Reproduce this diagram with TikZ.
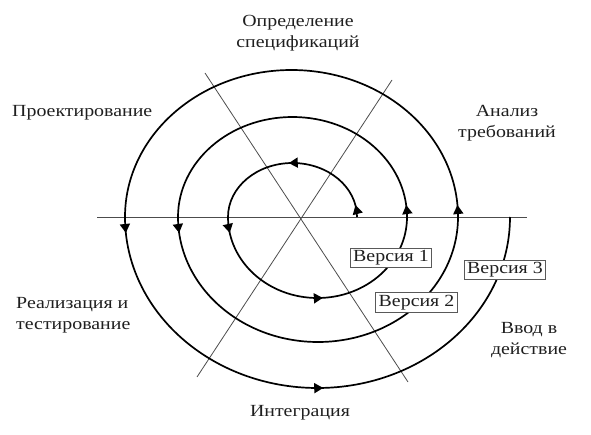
\documentclass[tikz,border=0pt]{standalone}
\usepackage{fontspec}
\setmainfont[FakeStretch=1.17]{Liberation Serif}
\usepackage{tikz}
\usetikzlibrary{arrows.meta,decorations.markings}

\begin{document}
\begin{tikzpicture}[x=1pt, y=1pt,
  lbl/.style = {font=\fontsize{17}{21}\selectfont, text=black!88, inner sep=0pt},
  ver/.style = {lbl, draw=black!65, line width=1pt, fill=white, inner xsep=3pt, inner ysep=2.5pt},
  axis/.style = {black!70, line width=0.8pt},
  turn/.style = {line width=1.7pt},
  tipat/.style = {postaction={decorate}, decoration={markings,
      mark=at position #1 with {\arrow{Triangle[width=10pt,length=9pt]}}}},
  tipat2/.style 2 args = {postaction={decorate}, decoration={markings,
      mark=at position #1 with {\arrow{Triangle[width=10pt,length=9pt]}},
      mark=at position #2 with {\arrow{Triangle[width=10pt,length=9pt]}}}}]
\useasboundingbox (0,0) rectangle (591,434);

% axes
\coordinate (h1) at (97,217);
\coordinate (h2) at (527,217);
\coordinate (a1) at (205,361);
\coordinate (a2) at (408,52);
\coordinate (b1) at (392,354);
\coordinate (b2) at (197,57);
\draw[axis] (h1) -- (h2);
\draw[axis] (a1) -- (a2);
\draw[axis] (b1) -- (b2);

% spiral
\coordinate (s0) at (357,217);
\coordinate (s1) at (228,217);
\coordinate (s2) at (407,217);
\coordinate (s3) at (178,217);
\coordinate (s4) at (458,217);
\coordinate (s5) at (125,217);
\draw[turn, tipat2={12pt}{0.52}] (s0) arc[start angle=0, end angle=180, x radius=64.5, y radius=54];
\draw[turn, tipat2={16pt}{0.52}] (s1) arc[start angle=180, end angle=360, x radius=89.5, y radius=81];
\draw[turn, tipat={12pt}] (s2) arc[start angle=0, end angle=180, x radius=114.5, y radius=100];
\draw[turn, tipat={16pt}] (s3) arc[start angle=180, end angle=360, x radius=140, y radius=125];
\draw[turn, tipat={12pt}] (s4) arc[start angle=0, end angle=180, x radius=166.5, y radius=147];
\draw[turn, tipat2={16pt}{0.51}] (s5) arc[start angle=180, end angle=360, x radius=192.5, y radius=171];

% versions
\node[ver] (v1) at (391,176) {Версия 1};
\node[ver] (v2) at (416.5,131.5) {Версия 2};
\node[ver] (v3) at (505,164) {Версия 3};

% phases
\node[lbl, align=center] (spec) at (298,401) {Определение\\спецификаций};
\node[lbl, anchor=west] (design) at (12,321) {Проектирование};
\node[lbl, align=center] (req) at (507,311) {Анализ\\требований};
\node[lbl, align=left, anchor=west] (impl) at (16,119) {Реализация и\\тестирование};
\node[lbl] (integ) at (300,21) {Интеграция};
\node[lbl, align=center] (deploy) at (529,94) {Ввод в\\действие};
\end{tikzpicture}
\end{document}
